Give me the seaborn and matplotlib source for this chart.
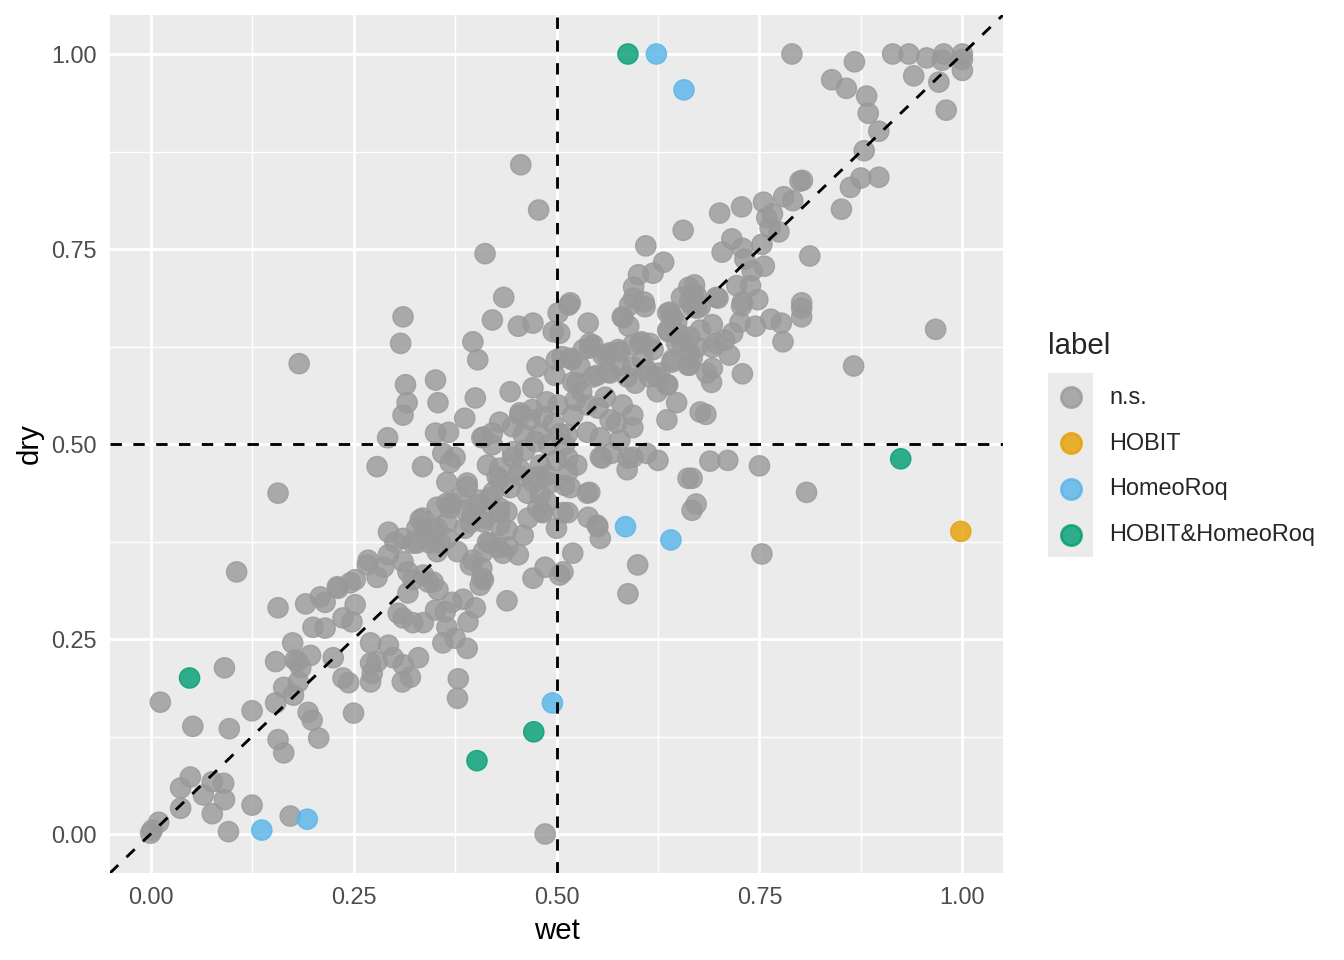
import pandas as pd
import matplotlib.pyplot as plt
import seaborn as sns
from matplotlib.lines import Line2D
from matplotlib.patches import Rectangle

# puntos n.s.
ns_wet = [
    0.79, 0.867, 0.839, 0.857, 0.882, 0.884, 0.897, 0.879, 0.875, 0.897,
    0.862, 0.851, 0.914, 0.934, 0.940, 0.956, 0.977, 0.975, 0.971, 1.00,
    1.00, 1.00, 0.980,
    0.803, 0.80, 0.78, 0.791, 0.755, 0.728, 0.701, 0.766, 0.759, 0.763,
    0.774, 0.716, 0.753, 0.729, 0.704, 0.812, 0.732, 0.756, 0.741, 0.722,
    0.739, 0.697, 0.729, 0.748, 0.802, 0.670, 0.668, 0.656, 0.61, 0.632,
    0.619, 0.601, 0.595, 0.595, 0.609, 0.582, 0.589, 0.515, 0.539, 0.504,
    0.541, 0.541, 0.663, 0.654, 0.672, 0.667, 0.677, 0.699, 0.728, 0.637,
    0.643, 0.637, 0.726, 0.745, 0.764, 0.777, 0.802, 0.802, 0.779, 0.692,
    0.717, 0.707, 0.677, 0.664, 0.673, 0.654, 0.692, 0.713, 0.664, 0.642,
    0.664, 0.685, 0.692, 0.691, 0.729, 0.603, 0.619, 0.606, 0.578, 0.557,
    0.627, 0.636, 0.615, 0.519, 0.529, 0.566, 0.587, 0.597, 0.545, 0.525,
    0.673, 0.697, 0.667, 0.684, 0.967, 0.866, 0.689, 0.711, 0.75, 0.667,
    0.808, 0.672, 0.667, 0.753,
    0.456, 0.478, 0.412, 0.435, 0.517, 0.608,
    0.502, 0.421, 0.453, 0.471, 0.496, 0.59, 0.581, 0.64, 0.648, 0.664,
    0.311, 0.308, 0.397, 0.403, 0.533, 0.507, 0.517, 0.566, 0.576, 0.594,
    0.605, 0.638, 0.652, 0.643, 0.662, 0.476, 0.498, 0.52, 0.531, 0.55,
    0.563, 0.578, 0.594, 0.611, 0.624, 0.637, 0.624, 0.648, 0.636, 0.677,
    0.594, 0.594, 0.574, 0.581, 0.56, 0.551, 0.538, 0.52, 0.502, 0.488,
    0.483, 0.471, 0.47, 0.455, 0.443, 0.43, 0.446, 0.459, 0.474, 0.513,
    0.538, 0.554, 0.421, 0.408, 0.40, 0.387, 0.367, 0.351, 0.354, 0.351,
    0.314, 0.316, 0.311, 0.36, 0.375, 0.369, 0.335, 0.421, 0.415, 0.43,
    0.446, 0.461, 0.43, 0.422, 0.443, 0.453, 0.48, 0.488, 0.471, 0.464,
    0.48, 0.488, 0.477, 0.514, 0.525, 0.514, 0.51, 0.517, 0.541, 0.556,
    0.568, 0.588, 0.611, 0.625, 0.587, 0.662, 0.365, 0.39, 0.381, 0.353,
    0.369, 0.335, 0.348, 0.328, 0.311, 0.323, 0.402, 0.418, 0.43, 0.439,
    0.41, 0.43, 0.396, 0.387, 0.365, 0.378, 0.353, 0.415, 0.428, 0.44,
    0.453, 0.394, 0.408, 0.41, 0.336, 0.323, 0.459, 0.465, 0.482, 0.50,
    0.514, 0.539, 0.55, 0.554, 0.52, 0.508, 0.486, 0.471, 0.60,
    0.439, 0.504, 0.588, 0.36, 0.39, 0.375, 0.391, 0.40, 0.385, 0.371,
    0.351, 0.363, 0.365, 0.354, 0.342, 0.408, 0.406, 0.317, 0.311, 0.323,
    0.336, 0.33, 0.311, 0.32, 0.31, 0.379, 0.378, 0.486,
    0.157, 0.106, 0.157, 0.191, 0.209, 0.215, 0.23, 0.246, 0.252, 0.252,
    0.237, 0.248, 0.20, 0.215, 0.175, 0.154, 0.181, 0.197, 0.185, 0.225,
    0.164, 0.182, 0.176, 0.154, 0.125, 0.194, 0.199, 0.097, 0.157, 0.207,
    0.237, 0.244, 0.25, 0.271, 0.293, 0.271, 0.279, 0.273, 0.271, 0.299,
    0.267, 0.279, 0.268, 0.293, 0.293, 0.301, 0.311, 0.317, 0.305, 0.348,
    0.41, 0.336, 0.332, 0.365, 0.344, 0.365, 0.353, 0.328,
    0.231, 0.178, 0.164, 0.091, 0.012, 0.052, 0.049, 0.037, 0.076, 0.09,
    0.065, 0.091, 0.037, 0.076, 0.125, 0.096, 0.172, 0.01, 0.0, 0.002,
    0.183, 0.292, 0.279, 0.287,
    0.50, 0.545, 0.562, 0.615, 0.648, 0.594, 0.554, 0.455, 0.467, 0.41,
    0.39, 0.427, 0.446, 0.455, 0.476, 0.492, 0.538, 0.508, 0.483, 0.439,
    0.418, 0.434, 0.397, 0.357, 0.341, 0.371, 0.387, 0.406, 0.394, 0.412,
    0.43, 0.551,
    0.496, 0.504, 0.49, 0.51, 0.523, 0.566, 0.578, 0.48, 0.50,
]
ns_dry = [
    1.00, 0.99, 0.967, 0.956, 0.946, 0.924, 0.901, 0.876, 0.841, 0.842,
    0.829, 0.801, 1.00, 1.00, 0.972, 0.995, 1.00, 0.992, 0.964, 1.00,
    0.993, 0.979, 0.928,
    0.838, 0.837, 0.817, 0.812, 0.81, 0.804, 0.796, 0.795, 0.79, 0.777,
    0.772, 0.763, 0.756, 0.751, 0.746, 0.741, 0.737, 0.728, 0.722, 0.703,
    0.703, 0.688, 0.682, 0.685, 0.681, 0.704, 0.691, 0.774, 0.754, 0.733,
    0.719, 0.717, 0.701, 0.687, 0.676, 0.662, 0.651, 0.678, 0.655, 0.642,
    0.629, 0.623, 0.701, 0.688, 0.691, 0.676, 0.676, 0.687, 0.677, 0.668,
    0.663, 0.646, 0.656, 0.651, 0.66, 0.655, 0.674, 0.663, 0.631, 0.653,
    0.642, 0.633, 0.646, 0.637, 0.624, 0.631, 0.624, 0.614, 0.617, 0.605,
    0.601, 0.591, 0.597, 0.579, 0.59, 0.629, 0.621, 0.608, 0.618, 0.614,
    0.591, 0.576, 0.586, 0.608, 0.599, 0.591, 0.586, 0.578, 0.586, 0.578,
    0.674, 0.629, 0.61, 0.538, 0.647, 0.60, 0.478, 0.479, 0.472, 0.456,
    0.438, 0.423, 0.415, 0.359,
    0.858, 0.80, 0.744, 0.688, 0.681, 0.682,
    0.668, 0.659, 0.651, 0.655, 0.644, 0.678, 0.663, 0.669, 0.656, 0.682,
    0.663, 0.629, 0.631, 0.608, 0.621, 0.612, 0.61, 0.617, 0.621, 0.627,
    0.631, 0.644, 0.64, 0.608, 0.601, 0.599, 0.588, 0.579, 0.567, 0.588,
    0.592, 0.601, 0.599, 0.595, 0.586, 0.576, 0.567, 0.553, 0.531, 0.541,
    0.537, 0.521, 0.527, 0.55, 0.56, 0.546, 0.55, 0.537, 0.55, 0.554,
    0.535, 0.572, 0.544, 0.537, 0.567, 0.528, 0.522, 0.512, 0.503, 0.512,
    0.515, 0.508, 0.514, 0.508, 0.559, 0.533, 0.515, 0.514, 0.553, 0.582,
    0.576, 0.553, 0.537, 0.488, 0.483, 0.476, 0.471, 0.499, 0.473, 0.469,
    0.49, 0.492, 0.454, 0.438, 0.444, 0.46, 0.473, 0.46, 0.451, 0.437,
    0.435, 0.426, 0.418, 0.482, 0.473, 0.464, 0.447, 0.444, 0.438, 0.482,
    0.488, 0.482, 0.488, 0.479, 0.467, 0.456, 0.451, 0.445, 0.431, 0.419,
    0.418, 0.405, 0.392, 0.392, 0.379, 0.373, 0.422, 0.431, 0.418, 0.413,
    0.40, 0.396, 0.409, 0.392, 0.379, 0.362, 0.362, 0.374, 0.367, 0.368,
    0.358, 0.345, 0.341, 0.326, 0.332, 0.326, 0.383, 0.405, 0.413, 0.392,
    0.412, 0.406, 0.396, 0.379, 0.36, 0.336, 0.342, 0.328, 0.345,
    0.299, 0.332, 0.308, 0.245, 0.238, 0.251, 0.272, 0.29, 0.301, 0.297,
    0.287, 0.285, 0.265, 0.313, 0.323, 0.328, 0.319, 0.309, 0.277, 0.271,
    0.271, 0.226, 0.217, 0.201, 0.195, 0.199, 0.174, 0.00,
    0.437, 0.336, 0.29, 0.295, 0.304, 0.297, 0.317, 0.322, 0.326, 0.294,
    0.277, 0.272, 0.265, 0.264, 0.245, 0.221, 0.221, 0.229, 0.213, 0.226,
    0.188, 0.195, 0.178, 0.168, 0.158, 0.156, 0.146, 0.135, 0.121, 0.123,
    0.20, 0.194, 0.155, 0.245, 0.242, 0.219, 0.221, 0.206, 0.195, 0.226,
    0.345, 0.329, 0.351, 0.358, 0.387, 0.374, 0.349, 0.336, 0.283, 0.323,
    0.362, 0.387, 0.403, 0.424, 0.373, 0.399, 0.392, 0.373,
    0.315, 0.223, 0.104, 0.213, 0.169, 0.138, 0.073, 0.059, 0.067, 0.065,
    0.05, 0.044, 0.033, 0.026, 0.037, 0.003, 0.023, 0.015, 0.001, 0.005,
    0.603, 0.508, 0.471, 0.342,
    0.608, 0.627, 0.614, 0.629, 0.629, 0.483, 0.483, 0.54, 0.531, 0.509,
    0.45, 0.458, 0.483, 0.467, 0.458, 0.45, 0.437, 0.412, 0.412, 0.39,
    0.373, 0.36, 0.351, 0.373, 0.381, 0.424, 0.415, 0.428, 0.399, 0.405,
    0.412, 0.394,
    0.526, 0.513, 0.499, 0.499, 0.556, 0.531, 0.505, 0.513, 0.479,
]

hobit_wet = [0.998]
hobit_dry = [0.388]

homeo_wet = [0.623, 0.657, 0.585, 0.641, 0.495, 0.137, 0.193]
homeo_dry = [1.0, 0.954, 0.394, 0.377, 0.168, 0.005, 0.019]

both_wet = [0.588, 0.924, 0.048, 0.472, 0.402]
both_dry = [1.0, 0.481, 0.2, 0.131, 0.094]

etiquetas = ["n.s.", "HOBIT", "HomeoRoq", "HOBIT&HomeoRoq"]
colores = ["#999999", "#E69F00", "#56B4E9", "#009E73"]

partes = []
for lab, w, d in zip(etiquetas,
                     [ns_wet, hobit_wet, homeo_wet, both_wet],
                     [ns_dry, hobit_dry, homeo_dry, both_dry]):
    partes.append(pd.DataFrame({"wet": w, "dry": d, "label": lab}))
df = pd.concat(partes, ignore_index=True)

sns.set_style("darkgrid")
plt.rcParams["font.family"] = ["Liberation Sans", "DejaVu Sans"]

W, H = 1344, 960
fig = plt.figure(figsize=(7, 5), dpi=192)
ax = fig.add_axes([110 / W, 1 - 873 / H, (1003 - 110) / W, (873 - 15) / H])
ax.set_facecolor("#EBEBEB")

sns.scatterplot(data=df, x="wet", y="dry", hue="label", hue_order=etiquetas,
                palette=dict(zip(etiquetas, colores)), s=58, alpha=0.8,
                edgecolor="face", linewidth=0.5, legend=False, ax=ax, zorder=2)

# lineas de referencia
ax.axline((0, 0), (1, 1), color="black", lw=1.07, ls=(0, (4, 4)), zorder=3)
ax.axvline(0.5, color="black", lw=1.07, ls=(0, (4, 4)), zorder=3)
ax.axhline(0.5, color="black", lw=1.07, ls=(0, (4, 4)), zorder=3)

ax.set_xlim(-0.05, 1.05)
ax.set_ylim(-0.05, 1.05)
ticks = [0, 0.25, 0.5, 0.75, 1]
ax.set_xticks(ticks)
ax.set_yticks(ticks)
ax.set_xticklabels([f"{t:.2f}" for t in ticks])
ax.set_yticklabels([f"{t:.2f}" for t in ticks])
ax.set_xticks([0.125, 0.375, 0.625, 0.875], minor=True)
ax.set_yticks([0.125, 0.375, 0.625, 0.875], minor=True)
ax.grid(which="major", color="white", linewidth=1.07)
ax.grid(which="minor", color="white", linewidth=0.53)
ax.set_axisbelow(True)
for s in ax.spines.values():
    s.set_visible(False)
ax.tick_params(which="major", length=2.75, width=1.07, color="#333333",
               labelsize=8.8, labelcolor="#4D4D4D", pad=2.2)
ax.tick_params(which="minor", length=0)
ax.set_xlabel("wet", fontsize=11, color="black", labelpad=2.75)
ax.set_ylabel("dry", fontsize=11, color="black", labelpad=2.75)

# leyenda manual estilo ggplot
fig.text(1048 / W, 1 - 346 / H, "label", fontsize=11, ha="left", va="center")
fig.add_artist(Rectangle((1048 / W, 1 - 557 / H), 45 / W, 184 / H,
                         transform=fig.transFigure, facecolor="#EBEBEB",
                         edgecolor="none"))
for i, (lab, col) in enumerate(zip(etiquetas, colores)):
    yc = 1 - (397 + 46 * i) / H
    fig.add_artist(Line2D([1071 / W], [yc], transform=fig.transFigure,
                          marker="o", markersize=7.6, linestyle="none",
                          color=col, alpha=0.8))
    fig.text(1109 / W, yc, lab, fontsize=8.8, ha="left", va="center")

fig.savefig("out.png", dpi=192)
